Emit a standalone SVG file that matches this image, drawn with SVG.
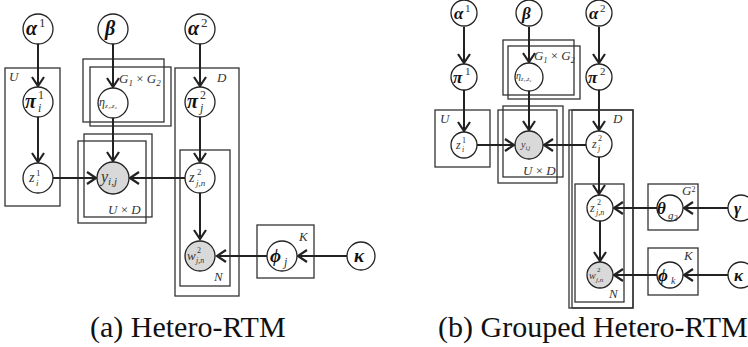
<svg xmlns="http://www.w3.org/2000/svg" width="748" height="347" viewBox="0 0 748 347" font-family="Liberation Serif, Times New Roman, serif">
<style>
.n{fill:#fff;stroke:#222;stroke-width:1.3}
.o{fill:#d9d9d9;stroke:#222;stroke-width:1.3}
.p{fill:none;stroke:#333;stroke-width:1.3}
.e{stroke:#222;stroke-width:2;fill:none}
.g{font-family:'Liberation Serif','Times New Roman',serif;font-weight:bold;font-style:italic;fill:#111}
.m{font-family:'Liberation Serif','Times New Roman',serif;font-style:italic;fill:#333}
.s{font-family:'Liberation Serif','Times New Roman',serif;fill:#333}
.pl{font-family:'Liberation Serif','Times New Roman',serif;font-style:italic;fill:#333;font-size:13px}
.cap{font-family:'Liberation Serif','Times New Roman',serif;font-size:30px;fill:#111}
</style>
<defs>
<marker id="ah" viewBox="-11 -7 13 14" refX="0" refY="0" markerWidth="13" markerHeight="14" markerUnits="userSpaceOnUse" orient="auto">
<path d="M-9,-6 L0,0 L-9,6" fill="none" stroke="#222" stroke-width="2.2"/>
</marker>
</defs>

<g id="plates-a">
<rect class="p" x="5" y="68" width="55" height="138"/>
<rect class="p" x="83" y="59" width="81" height="63"/>
<rect class="p" x="90" y="67" width="81" height="59"/>
<rect class="p" x="78" y="141" width="68" height="82"/>
<rect class="p" x="84" y="134" width="68" height="83"/>
<rect class="p" x="175" y="68" width="64" height="228"/>
<rect class="p" x="180" y="150" width="50" height="136"/>
<rect class="p" x="257" y="225" width="57" height="53"/>
<text class="pl" x="9" y="81">U</text>
<text class="pl" x="217" y="82">D</text>
<text class="pl" x="119" y="83">G<tspan font-size="9" dy="3">1</tspan><tspan dy="-3" font-style="normal"> × </tspan>G<tspan font-size="9" dy="3">2</tspan></text>
<text class="pl" x="108" y="214">U<tspan font-style="normal"> × </tspan>D</text>
<text class="pl" x="214" y="281">N</text>
<text class="pl" x="299" y="241">K</text>
</g>

<g id="plates-b">
<rect class="p" x="503" y="40" width="71" height="55"/>
<rect class="p" x="508" y="46" width="72" height="53"/>
<rect class="p" x="435" y="110" width="55" height="57"/>
<rect class="p" x="498" y="110" width="59" height="73"/>
<rect class="p" x="503" y="106" width="60" height="71"/>
<rect class="p" x="569" y="110" width="64" height="198"/>
<rect class="p" x="572" y="110" width="61" height="198"/>
<rect class="p" x="575" y="184" width="49" height="118"/>
<rect class="p" x="648" y="184" width="50" height="46"/>
<rect class="p" x="648" y="248" width="50" height="47"/>
<text class="pl" x="440" y="123" font-size="11">U</text>
<text class="pl" x="534" y="60" font-size="11">G<tspan font-size="8" dy="3">1</tspan><tspan dy="-3" font-style="normal"> × </tspan>G<tspan font-size="8" dy="3">2</tspan></text>
<text class="pl" x="523" y="175" font-size="11">U<tspan font-style="normal"> × </tspan>D</text>
<text class="pl" x="613" y="123" font-size="11">D</text>
<text class="pl" x="609" y="298" font-size="11">N</text>
<text class="pl" x="682" y="195" font-size="11">G<tspan font-size="8" dy="-3" font-style="normal">2</tspan></text>
<text class="pl" x="684" y="260" font-size="11">K</text>
</g>

<g id="edges">
<line class="e" x1="38" y1="44" x2="38" y2="86" marker-end="url(#ah)"/>
<line class="e" x1="38" y1="117" x2="38" y2="162" marker-end="url(#ah)"/>
<line class="e" x1="113" y1="44" x2="113" y2="87" marker-end="url(#ah)"/>
<line class="e" x1="113" y1="118" x2="113" y2="161" marker-end="url(#ah)"/>
<line class="e" x1="200" y1="44" x2="200" y2="86" marker-end="url(#ah)"/>
<line class="e" x1="200" y1="117" x2="200" y2="162" marker-end="url(#ah)"/>
<line class="e" x1="200" y1="193" x2="200" y2="239" marker-end="url(#ah)"/>
<line class="e" x1="53" y1="178" x2="96" y2="178" marker-end="url(#ah)"/>
<line class="e" x1="185" y1="178" x2="130" y2="178" marker-end="url(#ah)"/>
<line class="e" x1="267" y1="256" x2="217" y2="256" marker-end="url(#ah)"/>
<line class="e" x1="347" y1="256" x2="298" y2="256" marker-end="url(#ah)"/>

<line class="e" x1="464" y1="27" x2="464" y2="63" marker-end="url(#ah)"/>
<line class="e" x1="464" y1="90" x2="464" y2="131" marker-end="url(#ah)"/>
<line class="e" x1="529" y1="27" x2="529" y2="62" marker-end="url(#ah)"/>
<line class="e" x1="529" y1="91" x2="529" y2="130" marker-end="url(#ah)"/>
<line class="e" x1="599" y1="27" x2="599" y2="63" marker-end="url(#ah)"/>
<line class="e" x1="599" y1="90" x2="599" y2="130" marker-end="url(#ah)"/>
<line class="e" x1="599" y1="157" x2="599" y2="194" marker-end="url(#ah)"/>
<line class="e" x1="600" y1="221" x2="600" y2="261" marker-end="url(#ah)"/>
<line class="e" x1="477" y1="145" x2="514" y2="145" marker-end="url(#ah)"/>
<line class="e" x1="586" y1="145" x2="544" y2="145" marker-end="url(#ah)"/>
<line class="e" x1="657" y1="208" x2="614" y2="208" marker-end="url(#ah)"/>
<line class="e" x1="728" y1="208" x2="684" y2="208" marker-end="url(#ah)"/>
<line class="e" x1="657" y1="275" x2="614" y2="275" marker-end="url(#ah)"/>
<line class="e" x1="728" y1="275" x2="684" y2="275" marker-end="url(#ah)"/>
</g>

<g id="a-alpha1"><circle class="n" cx="38" cy="29" r="15"/><text class="g" x="26" y="35" font-size="20">α</text><text class="s" x="39" y="27" font-size="13">1</text></g>
<g id="a-beta"><circle class="n" cx="113" cy="29" r="15"/><text class="g" x="105" y="35" font-size="20">β</text></g>
<g id="a-alpha2"><circle class="n" cx="200" cy="29" r="15"/><text class="g" x="188" y="35" font-size="20">α</text><text class="s" x="201" y="27" font-size="13">2</text></g>
<g id="a-pi1"><circle class="n" cx="38" cy="102" r="15"/><text class="g" x="25" y="108" font-size="20">π</text><text class="s" x="38" y="99" font-size="12">1</text><text class="m" x="38" y="112" font-size="12">i</text></g>
<g id="a-eta"><circle class="n" cx="113" cy="103" r="15"/><text class="m" x="99" y="106" font-size="12">η<tspan font-size="7" dy="2">z₁,z₂</tspan></text></g>
<g id="a-pi2"><circle class="n" cx="200" cy="102" r="15"/><text class="g" x="187" y="108" font-size="20">π</text><text class="s" x="200" y="99" font-size="12">2</text><text class="m" x="200" y="112" font-size="12">j</text></g>
<g id="a-z1"><circle class="n" cx="38" cy="178" r="15"/><text class="m" x="29" y="182" font-size="14">z</text><text class="s" x="36" y="176" font-size="9">1</text><text class="m" x="36" y="186" font-size="9">i</text></g>
<g id="a-y"><circle class="o" cx="113" cy="178" r="16"/><text class="m" x="101" y="182" font-size="16">y<tspan font-size="11" dy="3">i,j</tspan></text></g>
<g id="a-zjn"><circle class="n" cx="200" cy="178" r="15"/><text class="m" x="189" y="182" font-size="14">z</text><text class="s" x="197" y="175" font-size="9">2</text><text class="m" x="196" y="186" font-size="9">j,n</text></g>
<g id="a-w"><circle class="o" cx="200" cy="256" r="15"/><text class="m" x="187" y="260" font-size="13">w</text><text class="s" x="197" y="253" font-size="8">2</text><text class="m" x="196" y="263" font-size="8">j,n</text></g>
<g id="a-phi"><circle class="n" cx="282" cy="256" r="15"/><text class="g" x="270" y="262" font-size="19">ϕ</text><text class="m" x="284" y="266" font-size="12">j</text></g>
<g id="a-kappa"><circle class="n" cx="361" cy="256" r="14"/><text class="g" x="354" y="262" font-size="19">κ</text></g>

<g id="b-alpha1"><circle class="n" cx="464" cy="13" r="13"/><text class="g" x="454" y="19" font-size="17">α</text><text class="s" x="465" y="12" font-size="11">1</text></g>
<g id="b-beta"><circle class="n" cx="529" cy="13" r="13"/><text class="g" x="522" y="19" font-size="17">β</text></g>
<g id="b-alpha2"><circle class="n" cx="599" cy="13" r="13"/><text class="g" x="589" y="19" font-size="17">α</text><text class="s" x="600" y="12" font-size="11">2</text></g>
<g id="b-pi1"><circle class="n" cx="464" cy="77" r="13"/><text class="g" x="453" y="83" font-size="17">π</text><text class="s" x="465" y="75" font-size="11">1</text></g>
<g id="b-eta"><circle class="n" cx="529" cy="77" r="14"/><text class="m" x="516" y="79" font-size="10">η<tspan font-size="6" dy="2">z₁,z₂</tspan></text></g>
<g id="b-pi2"><circle class="n" cx="599" cy="77" r="13"/><text class="g" x="588" y="83" font-size="17">π</text><text class="s" x="600" y="75" font-size="11">2</text></g>
<g id="b-z1"><circle class="n" cx="464" cy="145" r="13"/><text class="m" x="456" y="149" font-size="12">z</text><text class="s" x="462" y="143" font-size="8">1</text><text class="m" x="462" y="152" font-size="8">i</text></g>
<g id="b-y"><circle class="o" cx="529" cy="145" r="14"/><text class="m" x="521" y="148" font-size="10">y<tspan font-size="6" dy="2">i,j</tspan></text></g>
<g id="b-zj"><circle class="n" cx="599" cy="144" r="13"/><text class="m" x="592" y="148" font-size="12">z</text><text class="s" x="598" y="141" font-size="8">2</text><text class="m" x="598" y="151" font-size="8">j</text></g>
<g id="b-zjn"><circle class="n" cx="600" cy="208" r="13"/><text class="m" x="590" y="212" font-size="12">z</text><text class="s" x="597" y="205" font-size="8">2</text><text class="m" x="596" y="215" font-size="8">j,n</text></g>
<g id="b-theta"><circle class="n" cx="670" cy="208" r="13"/><text class="g" x="657" y="214" font-size="17">θ</text><text class="m" x="668" y="219" font-size="11">g<tspan font-size="8" dy="2">2</tspan></text></g>
<g id="b-gamma"><circle class="n" cx="741" cy="208" r="13"/><text class="g" x="734" y="214" font-size="17">γ</text></g>
<g id="b-w"><circle class="o" cx="600" cy="275" r="13"/><text class="m" x="589" y="279" font-size="10">w</text><text class="s" x="597" y="272" font-size="7">2</text><text class="m" x="596" y="282" font-size="7">j,n</text></g>
<g id="b-phi"><circle class="n" cx="670" cy="275" r="13"/><text class="g" x="658" y="281" font-size="17">ϕ</text><text class="m" x="671" y="284" font-size="10">k</text></g>
<g id="b-kappa"><circle class="n" cx="741" cy="275" r="13"/><text class="g" x="734" y="281" font-size="17">κ</text></g>

<text class="cap" x="90" y="337">(a) Hetero-RTM</text>
<text class="cap" x="438" y="337">(b) Grouped Hetero-RTM</text>
</svg>
